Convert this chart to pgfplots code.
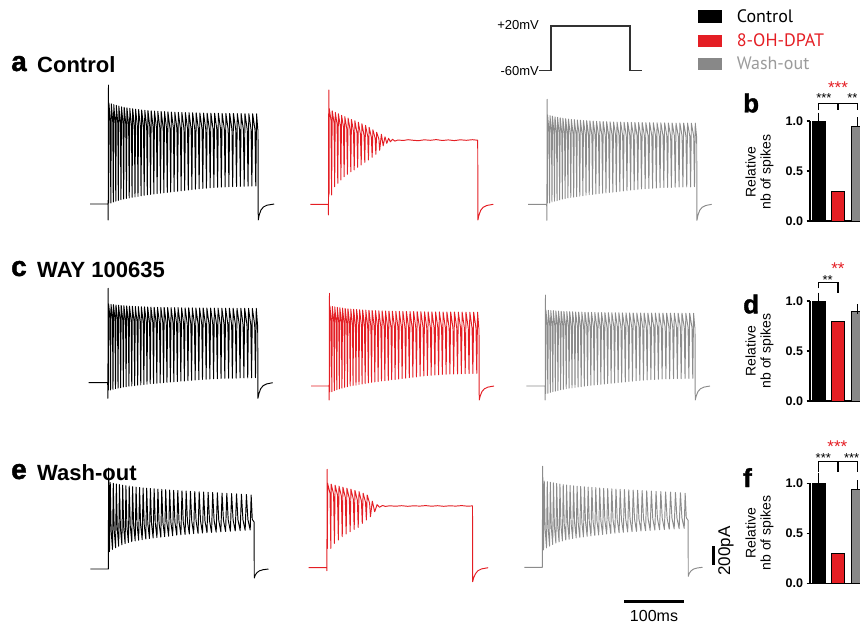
\documentclass[border=0pt]{standalone}
\usepackage{fontspec}
\setmainfont{Liberation Sans}
\newfontfamily\legfont{PT Sans}
\newfontfamily\heavyfont[BoldFeatures={FakeBold=1.5}]{Liberation Sans}
\usepackage{pgfplots}
\usepackage{pgfplotstable}
\pgfplotsset{compat=1.18}
\definecolor{myred}{RGB}{228,30,36}
\definecolor{mygray}{RGB}{136,136,136}
\definecolor{trgray}{RGB}{140,140,140}
\definecolor{leggray}{RGB}{155,155,155}
\pgfplotsset{
  trace/.style={hide axis, scale only axis, clip=false, xmin=-35, xmax=285, ymin=-250, ymax=1300, width=192pt, height=155pt, anchor=south west},
  tr/.style={line width=0.95pt, line join=round},
  barax/.style={scale only axis, width=60.8pt, height=100pt, xmin=-0.45, xmax=2.7, ymin=0, ymax=1, clip=false, anchor=south west,
    axis x line*=bottom, axis y line*=left, axis line style={line width=1.2pt,-}, xtick=\empty, ytick={0,0.5,1},
    yticklabels={\textbf{0.0},\textbf{0.5},\textbf{1.0}}, yticklabel style={font=\fontsize{12.5}{14}\selectfont},
    major tick length=3.5pt, tick align=outside, tick style={line width=1.2pt, black}},
  bb/.style={ybar, bar width=12.7pt, bar shift=0pt, draw=black, line width=0.6pt},
  eb/.style={error bars/.cd, y dir=plus, y explicit, error bar style={line width=1.2pt, black}, error mark options={line width=1.2pt, mark size=5pt, black}}
}
\tikzset{
  stk/.style={anchor=base, inner sep=0, font=\fontsize{13}{13}\selectfont},
  str/.style={anchor=base, inner sep=0, text=myred, font=\fontsize{17}{17}\selectfont}
}
\pgfplotstableread[row sep=\\]{
t y\\ -30 0\\ 0 0\\ 0.6 1010\\ 2.0 173\\
3.25 863\\ 4.75 380\\ 7.0 195\\
8.3 856\\ 9.8 393\\ 12.1 212\\
13.4 850\\ 15.0 403\\ 17.3 228\\
18.6 844\\ 20.2 413\\ 22.6 242\\
24.0 838\\ 25.6 421\\ 28.0 254\\
29.4 833\\ 31.0 428\\ 33.5 264\\
34.9 828\\ 36.6 433\\ 39.1 273\\
40.5 823\\ 42.2 438\\ 44.8 281\\
46.3 819\\ 48.0 442\\ 50.6 288\\
52.1 815\\ 53.8 446\\ 56.5 294\\
58.0 811\\ 59.8 449\\ 62.5 300\\
64.0 808\\ 65.9 452\\ 68.6 305\\
70.2 805\\ 72.0 455\\ 74.8 310\\
76.4 802\\ 78.3 458\\ 81.1 315\\
82.7 799\\ 84.6 460\\ 87.5 319\\
89.1 796\\ 91.1 462\\ 94.0 323\\
95.7 793\\ 97.6 464\\ 100.6 328\\
102.3 790\\ 104.3 467\\ 107.3 333\\
109.0 787\\ 111.0 469\\ 114.1 338\\
115.8 785\\ 117.9 472\\ 121.0 342\\
122.8 782\\ 124.9 474\\ 128.0 346\\
129.8 780\\ 131.9 476\\ 135.1 350\\
136.9 777\\ 139.1 478\\ 142.3 354\\
144.1 775\\ 146.3 480\\ 149.6 357\\
151.5 772\\ 153.7 482\\ 157.0 360\\
158.9 770\\ 161.1 483\\ 164.5 363\\
166.4 767\\ 168.7 484\\ 172.1 366\\
174.0 765\\ 176.3 486\\ 179.8 369\\
181.8 762\\ 184.1 487\\ 187.6 372\\
189.6 759\\ 191.9 488\\ 195.5 375\\
197.5 757\\ 199.9 490\\ 203.5 378\\
205.5 754\\ 208.0 491\\ 211.6 381\\
213.7 751\\ 216.1 492\\ 219.8 384\\
221.9 748\\ 224.4 493\\ 228.1 387\\
230.2 745\\ 232.7 494\\ 236.5 390\\
238.1 740\\ 240.0 495\\
243 470\\ 243.3 -90\\ 245 -60\\ 248 -35\\ 252 -18\\ 258 -7\\ 267 0\\
}\ebl
\begin{document}
\begin{tikzpicture}[x=1pt,y=1pt]
\useasboundingbox (0,0) rectangle (860,-624);
% ---------- titles ----------
\node[anchor=base west, inner sep=0, font=\heavyfont\bfseries\fontsize{28}{28}\selectfont] at (11,-71) {a};
\node[anchor=base west, inner sep=0, font=\bfseries\fontsize{22}{22}\selectfont] at (37,-72) {Control};
\node[anchor=base west, inner sep=0, font=\heavyfont\bfseries\fontsize{28}{28}\selectfont] at (11,-276) {c};
\node[anchor=base west, inner sep=0, font=\bfseries\fontsize{22}{22}\selectfont] at (37,-277) {WAY 100635};
\node[anchor=base west, inner sep=0, font=\heavyfont\bfseries\fontsize{28}{28}\selectfont] at (11,-479) {e};
\node[anchor=base west, inner sep=0, font=\bfseries\fontsize{22}{22}\selectfont] at (37,-480) {Wash-out};
% ---------- legend ----------
\fill[black] (697.7,-10) rectangle (722.3,-22.7);
\fill[myred] (697.7,-34.5) rectangle (722.3,-46.7);
\fill[mygray] (697.7,-58.3) rectangle (722.3,-70);
\node[anchor=base west, inner sep=0, font=\legfont\fontsize{18}{18}\selectfont] at (736.7,-22.7) {Control};
\node[anchor=base west, inner sep=0, text=myred, font=\legfont\fontsize{18}{18}\selectfont] at (736.7,-46.7) {8-OH-DPAT};
\node[anchor=base west, inner sep=0, text=leggray, font=\legfont\fontsize{18}{18}\selectfont] at (736.7,-69.5) {Wash-out};
% ---------- protocol ----------
\begin{axis}[hide axis, scale only axis, clip=false, anchor=south west, at={(539pt,-70.3pt)}, xmin=0, xmax=103, ymin=-60, ymax=20, width=103pt, height=44.3pt]
\addplot[line width=1.3pt, color={rgb,255:red,50;green,50;blue,50}] coordinates {(0,-60)(12,-60)(12,20)(91,20)(91,-60)(103,-60)};
\end{axis}
\node[anchor=east, inner sep=0, font=\fontsize{13}{13}\selectfont] at (539,-25) {+20mV};
\node[anchor=east, inner sep=0, font=\fontsize{13}{13}\selectfont] at (539,-71) {-60mV};
% ---------- row a ----------
\begin{axis}[trace, at={(87pt,-229pt)}]
\addplot[tr, black] coordinates {(-30,0)(0,0)(0.3,-160)(0.8,1190)(1.2,10)
(1.5,1010)(3.9,820)(4.7,10)(5.5,1001)(8.0,814)(8.8,20)(9.6,993)(12.1,808)(13.0,28)(13.8,986)(16.4,802)(17.2,36)
(18.1,979)(20.7,797)(21.6,43)(22.5,972)(25.2,793)(26.1,50)(27.0,967)(29.8,789)(30.7,56)(31.6,961)(34.4,785)(35.4,62)
(36.3,956)(39.2,781)(40.1,67)(41.1,952)(44.0,778)(45.0,72)(46.0,948)(49.0,775)(50.0,77)(51.0,944)(54.1,772)(55.1,82)
(56.1,940)(59.2,769)(60.3,87)(61.3,937)(64.5,767)(65.5,92)(66.6,934)(69.8,765)(70.9,96)(72.0,932)(75.3,763)(76.4,100)
(77.5,929)(80.8,761)(81.9,104)(83.0,927)(86.4,759)(87.5,108)(88.6,925)(92.0,758)(93.1,112)(94.2,923)(97.6,756)(98.8,116)
(99.9,921)(103.3,755)(104.5,120)(105.6,919)(109.1,754)(110.2,124)(111.4,918)(114.9,753)(116.0,128)(117.2,916)(120.7,752)(121.9,132)
(123.1,915)(126.6,751)(127.8,136)(129.0,914)(132.6,750)(133.8,140)(135.0,913)(138.6,749)(139.8,144)(141.0,912)(144.6,748)(145.8,148)
(147.0,911)(150.7,748)(151.9,152)(153.1,910)(156.8,747)(158.0,156)(159.2,909)(162.9,747)(164.1,159)(165.3,908)(169.0,746)(170.3,162)
(171.5,908)(175.2,746)(176.5,165)(177.7,907)(181.4,745)(182.7,167)(183.9,907)(187.7,745)(188.9,169)(190.2,906)(194.0,744)(195.2,171)
(196.5,906)(200.3,744)(201.5,173)(202.8,905)(206.6,744)(207.8,174)(209.1,905)(212.9,743)(214.2,175)(215.5,904)(219.3,743)(220.6,176)
(221.9,904)(225.7,743)(227.0,177)(228.3,903)(232.1,742)(233.4,178)(234.7,903)(238.5,742)(239.8,179)(241.1,902)(245.0,742)(246.3,180)
(247.6,902)(249.7,742)(250,740)(250.4,-160)(252,-110)(255,-60)(259,-30)(265,-12)(277,0)};
\end{axis}
\begin{axis}[trace, at={(307.3pt,-229.3pt)}]
\addplot[tr, myred] coordinates {(-30,0)(0,0)(0.3,-107)(0.8,1143)(1.2,93)
(1.5,960)(4.5,840)(5.5,93)(6.5,935)(9.6,815)(10.6,176)(11.6,920)(14.7,800)(15.8,210)(16.8,905)(20.0,785)(21.0,243)
(22.1,890)(25.3,770)(26.4,276)(27.5,876)(30.8,756)(31.9,300)(33.0,862)(36.4,742)(37.5,325)(38.6,848)(42.0,728)(43.2,345)
(44.3,835)(47.8,715)(48.9,370)(50.1,820)(53.6,700)(54.8,393)(56.0,805)(59.6,690)(60.8,420)(62.0,790)(65.7,680)(66.9,443)
(68.1,770)(71.8,670)(73.1,470)(74.3,745)(78.1,660)(79.3,500)(80.6,720)(84.4,650)(85.6,540)
(88.5,700)(91.5,585)(94.5,675)(97.5,610)(100.5,660)(103.5,625)(107,650)(111,632)
(116,643)(125,638)(133,646)(142,640)(150,636)(160,645)(170,640)(180,647)(190,638)(200,644)(210,637)(220,645)(230,640)(240,646)(248.5,641)
(249,640)(249.4,-157)(251,-110)(254,-60)(258,-30)(264,-12)(275,0)};
\end{axis}
\begin{axis}[trace, at={(525.7pt,-229.3pt)}]
\addplot[tr, trgray] coordinates {(-31,0)(0,0)(0.3,-160)(0.8,1050)(1.2,13)
(1.5,893)(3.9,720)(4.7,13)(5.5,886)(8.0,717)(8.8,23)(9.6,881)(12.1,714)(13.0,31)(13.8,875)(16.4,711)(17.2,37)
(18.1,870)(20.7,709)(21.6,44)(22.5,865)(25.2,706)(26.1,52)(27.0,861)(29.8,704)(30.7,57)(31.6,856)(34.4,702)(35.4,64)
(36.3,852)(39.2,700)(40.1,68)(41.1,849)(44.0,699)(45.0,72)(46.0,847)(49.0,698)(50.0,77)(51.0,843)(54.1,696)(55.1,81)
(56.1,841)(59.2,695)(60.3,86)(61.3,838)(64.5,694)(65.5,91)(66.6,836)(69.8,692)(70.9,96)(72.0,834)(75.3,692)(76.4,99)
(77.5,832)(80.8,690)(81.9,103)(83.0,830)(86.4,690)(87.5,108)(88.6,828)(92.0,689)(93.1,111)(94.2,827)(97.6,688)(98.8,114)
(99.9,826)(103.3,688)(104.5,119)(105.6,824)(109.1,687)(110.2,122)(111.4,823)(114.9,686)(116.0,125)(117.2,822)(120.7,686)(121.9,130)
(123.1,822)(126.6,686)(127.8,134)(129.0,820)(132.6,685)(133.8,137)(135.0,819)(138.6,684)(139.8,142)(141.0,819)(144.6,684)(145.8,145)
(147.0,818)(150.7,684)(151.9,150)(153.1,817)(156.8,684)(158.0,153)(159.2,817)(162.9,683)(164.1,156)(165.3,816)(169.0,683)(170.3,158)
(171.5,816)(175.2,683)(176.5,161)(177.7,815)(181.4,682)(182.7,163)(183.9,815)(187.7,682)(188.9,166)(190.2,814)(194.0,682)(195.2,168)
(196.5,814)(200.3,682)(201.5,169)(202.8,813)(206.6,682)(207.8,169)(209.1,813)(212.9,682)(214.2,171)(215.5,812)(219.3,681)(220.6,173)
(221.9,812)(225.7,681)(227.0,173)(228.3,812)(232.1,681)(233.4,174)(234.7,812)(238.5,681)(239.8,174)(241.1,811)(245.0,680)(246.3,176)
(247.6,811)(249.7,680)(250,680)(250.4,-160)(252,-110)(255,-60)(259,-30)(265,-12)(275,0)};
\end{axis}
% ---------- row c ----------
\begin{axis}[trace, at={(86.7pt,-407.7pt)}]
\addplot[tr, black] coordinates {(-32,0)(0,0)(0.3,-156)(0.8,944)(1.2,-73)
(1.5,787)(3.9,647)(4.7,-73)(5.5,783)(8.0,641)(8.8,-66)(9.6,780)(12.1,637)(13.0,-59)(13.8,777)(16.4,632)(17.2,-55)
(18.1,775)(20.7,627)(21.6,-50)(22.5,772)(25.2,623)(26.1,-43)(27.0,770)(29.8,620)(30.7,-40)(31.6,768)(34.4,616)(35.4,-35)
(36.3,765)(39.2,613)(40.1,-31)(41.1,764)(44.0,610)(45.0,-29)(46.0,762)(49.0,608)(50.0,-25)(51.0,761)(54.1,605)(55.1,-21)
(56.1,759)(59.2,603)(60.3,-18)(61.3,758)(64.5,601)(65.5,-14)(66.6,757)(69.8,599)(70.9,-10)(72.0,756)(75.3,597)(76.4,-8)
(77.5,754)(80.8,595)(81.9,-5)(83.0,754)(86.4,594)(87.5,-2)(88.6,753)(92.0,592)(93.1,1)(94.2,752)(97.6,592)(98.8,3)
(99.9,751)(103.3,590)(104.5,7)(105.6,750)(109.1,589)(110.2,9)(111.4,750)(114.9,588)(116.0,12)(117.2,750)(120.7,588)(121.9,16)
(123.1,749)(126.6,587)(127.8,18)(129.0,748)(132.6,585)(133.8,20)(135.0,748)(138.6,585)(139.8,24)(141.0,748)(144.6,585)(145.8,27)
(147.0,747)(150.7,584)(151.9,30)(153.1,747)(156.8,583)(158.0,33)(159.2,747)(162.9,583)(164.1,35)(165.3,746)(169.0,582)(170.3,36)
(171.5,746)(175.2,582)(176.5,39)(177.7,746)(181.4,581)(182.7,40)(183.9,746)(187.7,581)(188.9,43)(190.2,745)(194.0,581)(195.2,44)
(196.5,745)(200.3,581)(201.5,45)(202.8,745)(206.6,580)(207.8,45)(209.1,745)(212.9,580)(214.2,46)(215.5,744)(219.3,579)(220.6,48)
(221.9,744)(225.7,579)(227.0,48)(228.3,744)(232.1,578)(233.4,49)(234.7,744)(238.5,578)(239.8,49)(241.1,743)(245.0,578)(246.3,50)
(247.6,743)(249.7,578)(250,578)(250.4,-156)(252,-110)(255,-60)(259,-30)(265,-12)(275,0)};
\end{axis}
\begin{axis}[trace, at={(308pt,-411pt)}]
\addplot[tr, myred] coordinates {(-30,0)(0,0)(0.3,-140)(0.8,927)(1.2,-57)
(1.5,800)(3.9,643)(4.7,-57)(5.5,795)(8.0,638)(8.8,-46)(9.6,791)(12.1,633)(13.0,-37)(13.8,786)(16.4,628)(17.2,-29)
(18.1,782)(20.7,625)(21.6,-22)(22.5,779)(25.2,621)(26.1,-13)(27.0,775)(29.8,617)(30.7,-7)(31.6,772)(34.4,614)(35.4,0)
(36.3,769)(39.2,611)(40.1,6)(41.1,767)(44.0,608)(45.0,9)(46.0,765)(49.0,606)(50.0,15)(51.0,762)(54.1,603)(55.1,20)
(56.1,760)(59.2,601)(60.3,26)(61.3,758)(64.5,599)(65.5,31)(66.6,757)(69.8,597)(70.9,37)(72.0,755)(75.3,596)(76.4,41)
(77.5,753)(80.8,594)(81.9,44)(83.0,752)(86.4,593)(87.5,50)(88.6,751)(92.0,592)(93.1,53)(94.2,750)(97.6,591)(98.8,57)
(99.9,749)(103.3,590)(104.5,63)(105.6,748)(109.1,588)(110.2,66)(111.4,747)(114.9,588)(116.0,70)(117.2,746)(120.7,587)(121.9,75)
(123.1,746)(126.6,586)(127.8,79)(129.0,745)(132.6,585)(133.8,83)(135.0,744)(138.6,584)(139.8,88)(141.0,744)(144.6,584)(145.8,92)
(147.0,743)(150.7,584)(151.9,98)(153.1,743)(156.8,583)(158.0,101)(159.2,742)(162.9,582)(164.1,105)(165.3,741)(169.0,582)(170.3,107)
(171.5,741)(175.2,582)(176.5,110)(177.7,741)(181.4,581)(182.7,112)(183.9,741)(187.7,581)(188.9,116)(190.2,740)(194.0,580)(195.2,118)
(196.5,740)(200.3,580)(201.5,120)(202.8,740)(206.6,580)(207.8,120)(209.1,740)(212.9,580)(214.2,122)(215.5,739)(219.3,579)(220.6,123)
(221.9,739)(225.7,579)(227.0,123)(228.3,738)(232.1,578)(233.4,125)(234.7,738)(238.5,578)(239.8,125)(241.1,738)(245.0,578)(246.3,127)
(247.6,738)(249.7,578)(250,578)(250.4,-140)(252,-100)(255,-55)(259,-28)(265,-11)(275,0)};
\end{axis}
\begin{axis}[trace, at={(524pt,-411pt)}]
\addplot[tr, trgray] coordinates {(-31,0)(0,0)(0.3,-140)(0.8,910)(1.2,-73)
(1.5,760)(3.9,600)(4.7,-73)(5.5,757)(8.0,599)(8.8,-64)(9.6,755)(12.1,598)(13.0,-57)(13.8,753)(16.4,597)(17.2,-51)
(18.1,751)(20.7,596)(21.6,-45)(22.5,749)(25.2,595)(26.1,-37)(27.0,747)(29.8,594)(30.7,-33)(31.6,745)(34.4,593)(35.4,-27)
(36.3,744)(39.2,593)(40.1,-22)(41.1,743)(44.0,592)(45.0,-19)(46.0,742)(49.0,592)(50.0,-15)(51.0,740)(54.1,591)(55.1,-10)
(56.1,739)(59.2,591)(60.3,-6)(61.3,738)(64.5,590)(65.5,-1)(66.6,737)(69.8,590)(70.9,4)(72.0,737)(75.3,589)(76.4,7)
(77.5,736)(80.8,589)(81.9,10)(83.0,735)(86.4,589)(87.5,14)(88.6,734)(92.0,588)(93.1,17)(94.2,734)(97.6,588)(98.8,20)
(99.9,733)(103.3,588)(104.5,25)(105.6,733)(109.1,588)(110.2,28)(111.4,732)(114.9,587)(116.0,31)(117.2,732)(120.7,587)(121.9,35)
(123.1,732)(126.6,587)(127.8,38)(129.0,731)(132.6,587)(133.8,41)(135.0,731)(138.6,587)(139.8,46)(141.0,731)(144.6,587)(145.8,49)
(147.0,730)(150.7,586)(151.9,53)(153.1,730)(156.8,586)(158.0,56)(159.2,730)(162.9,586)(164.1,59)(165.3,729)(169.0,586)(170.3,61)
(171.5,729)(175.2,586)(176.5,64)(177.7,729)(181.4,586)(182.7,65)(183.9,729)(187.7,586)(188.9,68)(190.2,729)(194.0,586)(195.2,70)
(196.5,729)(200.3,586)(201.5,71)(202.8,728)(206.6,586)(207.8,71)(209.1,728)(212.9,586)(214.2,73)(215.5,728)(219.3,585)(220.6,74)
(221.9,728)(225.7,585)(227.0,74)(228.3,728)(232.1,585)(233.4,76)(234.7,728)(238.5,585)(239.8,76)(241.1,727)(245.0,585)(246.3,77)
(247.6,727)(249.7,585)(250,585)(250.4,-140)(252,-100)(255,-55)(259,-28)(265,-11)(275,0)};
\end{axis}
% ---------- row e ----------
\begin{axis}[trace, at={(87.3pt,-594pt)}]
\addplot[tr, black] table[x=t, y=y] {\ebl};
\end{axis}
\begin{axis}[trace, at={(305.7pt,-592.7pt)}]
\addplot[tr, myred] coordinates {(-30,0)(0,0)(0.3,-30)(0.8,984)(1.2,193)
(1.5,844)(5.5,744)(6.9,193)(7.5,835)(11.5,735)(12.9,243)(14.0,825)(18.0,725)(19.4,277)(20.5,815)(24.5,715)(25.9,310)
(27.0,805)(31.0,705)(32.4,337)(33.7,795)(37.7,695)(39.1,360)(40.4,785)(44.4,685)(45.8,383)(47.1,772)(51.1,675)(52.5,403)
(53.9,760)(57.9,665)(59.3,443)(60.7,745)(64.7,655)(66.1,477)(67.5,727)(71.5,645)(72.9,510)
(76,665)(80,560)(84,630)(88,605)(93,622)(98,613)(105,619)
(115,615)(125,620)(135,614)(145,619)(155,616)(165,621)(175,615)(185,620)(195,614)(205,619)(215,616)(225,621)(235,615)(242.6,618)
(243,617)(243.3,-140)(245,-100)(248,-60)(252,-30)(258,-12)(269,0)};
\end{axis}
\begin{axis}[trace, at={(521.3pt,-592.3pt)}]
\addplot[tr, trgray] table[x=t, y=y] {\ebl};
\end{axis}
% ---------- bar chart b ----------
\begin{axis}[barax, at={(810pt,-221pt)}]
\addplot[bb, fill=black, eb] coordinates {(0,1) +- (0,0.033)};
\addplot[bb, fill=myred] coordinates {(1,0.30)};
\addplot[bb, fill=mygray, eb] coordinates {(2,0.943) +- (0,0.044)};
\draw[line width=1.2pt] (axis cs:0,1.11) -- (axis cs:0,1.177) -- (axis cs:2,1.177) -- (axis cs:2,1.11);
\draw[line width=1.2pt] (axis cs:1,1.177) -- (axis cs:1,1.11);
\node[stk] at (axis cs:0.27,1.186) {***};
\node[stk] at (axis cs:1.75,1.186) {**};
\node[str] at (axis cs:1,1.28) {***};
\end{axis}
% ---------- bar chart d ----------
\begin{axis}[barax, at={(810pt,-401pt)}]
\addplot[bb, fill=black, eb] coordinates {(0,1) +- (0,0.033)};
\addplot[bb, fill=myred] coordinates {(1,0.80)};
\addplot[bb, fill=mygray, eb] coordinates {(2,0.90) +- (0,0.017)};
\draw[line width=1.2pt] (axis cs:0,1.127) -- (axis cs:0,1.187) -- (axis cs:1,1.187) -- (axis cs:1,1.08);
\node[stk] at (axis cs:0.46,1.17) {**};
\node[str] at (axis cs:1,1.262) {**};
\end{axis}
% ---------- bar chart f ----------
\begin{axis}[barax, at={(810pt,-583.3pt)}]
\addplot[bb, fill=black, eb] coordinates {(0,1) +- (0,0.057)};
\addplot[bb, fill=myred] coordinates {(1,0.30)};
\addplot[bb, fill=mygray, eb] coordinates {(2,0.94) +- (0,0.04)};
\draw[line width=1.2pt] (axis cs:0,1.116) -- (axis cs:0,1.216) -- (axis cs:2,1.216) -- (axis cs:2,1.116);
\draw[line width=1.2pt] (axis cs:1,1.216) -- (axis cs:1,1.116);
\node[stk] at (axis cs:0.24,1.205) {***};
\node[stk] at (axis cs:1.71,1.205) {***};
\node[str] at (axis cs:0.97,1.31) {***};
\end{axis}
% ---------- bar panel labels ----------
\node[anchor=base west, inner sep=0, font=\heavyfont\bfseries\fontsize{26}{26}\selectfont] at (743,-112.3) {b};
\node[anchor=base west, inner sep=0, font=\heavyfont\bfseries\fontsize{26}{26}\selectfont] at (743,-313.3) {d};
\node[anchor=base west, inner sep=0, font=\heavyfont\bfseries\fontsize{26}{26}\selectfont] at (743,-487) {f};
\node[rotate=90, align=center, inner sep=0, font=\fontsize{14}{15}\selectfont] at (759.5,-172) {Relative\\nb of spikes};
\node[rotate=90, align=center, inner sep=0, font=\fontsize{14}{15}\selectfont] at (759.5,-351) {Relative\\nb of spikes};
\node[rotate=90, align=center, inner sep=0, font=\fontsize{14}{15}\selectfont] at (759.5,-533) {Relative\\nb of spikes};
% ---------- scale bars ----------
\draw[line width=3pt] (624,-601) -- (684,-601);
\node[font=\fontsize{16}{16}\selectfont] at (654,-615.5) {100ms};
\draw[line width=3pt] (713.3,-546) -- (713.3,-565);
\node[rotate=90, font=\fontsize{17}{17}\selectfont] at (726,-551) {200pA};
\end{tikzpicture}
\end{document}
